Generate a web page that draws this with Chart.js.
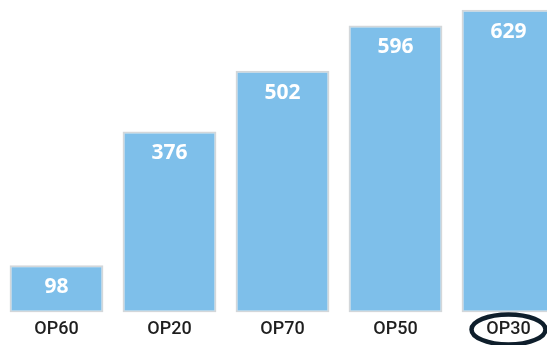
<!DOCTYPE html>
<html>
<head>
<meta charset="utf-8">
<script src="https://cdn.jsdelivr.net/npm/chart.js@4/dist/chart.umd.min.js"></script>
<style>
  html, body { margin: 0; padding: 0; background: #ffffff; overflow: hidden; }
  #wrap { position: relative; width: 565px; height: 345px; }
</style>
</head>
<body>
<div id="wrap"><canvas id="c"></canvas></div>
<script>
// Categories and counts
const categories = ['OP60', 'OP20', 'OP70', 'OP50', 'OP30'];
const values = [98, 376, 502, 596, 629];
const highlighted = 'OP30';

// Value labels inside the top of each bar
const valueLabels = {
  id: 'valueLabels',
  afterDatasetsDraw(chart) {
    const ctx = chart.ctx;
    const meta = chart.getDatasetMeta(0);
    ctx.save();
    ctx.fillStyle = '#ffffff';
    ctx.font = 'bold 21px "Open Sans", sans-serif';
    ctx.textAlign = 'center';
    ctx.textBaseline = 'middle';
    meta.data.forEach((bar, i) => {
      ctx.fillText(String(values[i]), bar.x, bar.y + 22);
    });
    ctx.restore();
  }
};

// Dark ellipse around the highlighted category label
const ringLabel = {
  id: 'ringLabel',
  afterDraw(chart) {
    const idx = categories.indexOf(highlighted);
    if (idx < 0) return;
    const x = chart.scales.x.getPixelForValue(idx);
    const y = chart.chartArea.bottom + 17;
    const ctx = chart.ctx;
    ctx.save();
    ctx.strokeStyle = '#0e1e2b';
    ctx.lineWidth = 4.5;
    ctx.beginPath();
    ctx.ellipse(x, y, 37, 15, 0, 0, Math.PI * 2);
    ctx.stroke();
    ctx.restore();
  }
};

new Chart(document.getElementById('c'), {
  type: 'bar',
  data: {
    labels: categories,
    datasets: [{
      data: values,
      backgroundColor: '#7ebfea',
      borderColor: '#d3d7da',
      borderWidth: 2,
      borderSkipped: false,
      barPercentage: 0.83,
      categoryPercentage: 1.0
    }]
  },
  options: {
    responsive: true,
    maintainAspectRatio: false,
    animation: false,
    layout: { padding: { left: 0, right: 0, top: 0, bottom: 7 } },
    plugins: {
      legend: { display: false },
      tooltip: { enabled: false }
    },
    scales: {
      x: {
        grid: { display: false },
        border: { display: false },
        ticks: {
          color: '#1e1e1e',
          font: { family: 'Roboto', size: 18, weight: '500' },
          padding: -2
        }
      },
      y: {
        display: false,
        min: 0,
        max: 649
      }
    }
  },
  plugins: [valueLabels, ringLabel]
});
</script>
</body>
</html>
